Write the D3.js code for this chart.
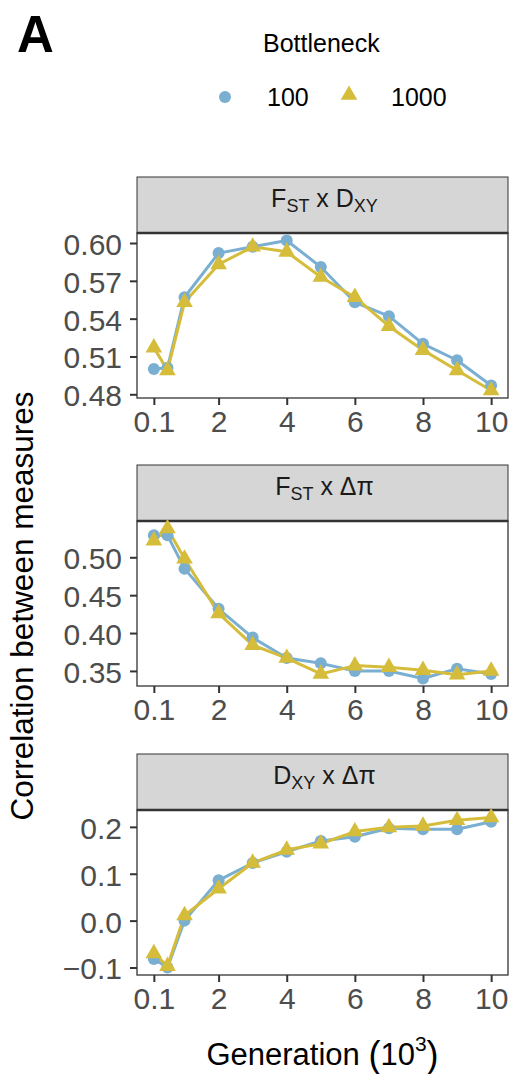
<!DOCTYPE html>
<html>
<head>
<meta charset="utf-8">
<script src="https://cdn.jsdelivr.net/npm/d3@7"></script>
<style>
  body { margin: 0; background: #fff; }
  svg { display: block; font-family: "Liberation Sans", Arial, sans-serif; }
</style>
</head>
<body>
<div id="chart"></div>
<script>
// generations (x 1000) sampled in every panel
const generations = [0.1, 0.5, 1, 2, 3, 4, 5, 6, 7, 8, 9, 10]
const xTicks = [0.1, 2, 4, 6, 8, 10]
const bottlenecks = ["100", "1000"]

// correlation values
const fstDxy100 = [0.500, 0.501, 0.557, 0.592, 0.597, 0.602, 0.581, 0.553, 0.542, 0.520, 0.507, 0.487]
const fstDxy1000 = [0.517, 0.499, 0.553, 0.583, 0.597, 0.593, 0.573, 0.557, 0.534, 0.515, 0.499, 0.483]
const fstDpi100 = [0.529, 0.529, 0.485, 0.432, 0.394, 0.367, 0.360, 0.350, 0.350, 0.340, 0.353, 0.346]
const fstDpi1000 = [0.522, 0.538, 0.498, 0.426, 0.384, 0.367, 0.346, 0.357, 0.355, 0.351, 0.345, 0.350]
const dxyDpi100 = [-0.082, -0.100, 0.000, 0.086, 0.123, 0.147, 0.170, 0.179, 0.197, 0.195, 0.195, 0.211]
const dxyDpi1000 = [-0.070, -0.097, 0.011, 0.068, 0.123, 0.151, 0.164, 0.190, 0.199, 0.202, 0.214, 0.220]

const yTicks1 = [0.48, 0.51, 0.54, 0.57, 0.60]
const yTicks2 = [0.35, 0.40, 0.45, 0.50]
const yTicks3 = [-0.1, 0.0, 0.1, 0.2]

const panels = [
  { title: [["F"], ["ST", "sub"], [" x D"], ["XY", "sub"]], series: [fstDxy100, fstDxy1000], ticks: yTicks1, fmt: d3.format(".2f"), top: 177 },
  { title: [["F"], ["ST", "sub"], [" x Δπ"]], series: [fstDpi100, fstDpi1000], ticks: yTicks2, fmt: d3.format(".2f"), top: 465 },
  { title: [["D"], ["XY", "sub"], [" x Δπ"]], series: [dxyDpi100, dxyDpi1000], ticks: yTicks3, fmt: d3.format(".1f"), top: 754 }
]

const colors = ["#7aafd1", "#d5bd3b"]
const width = 511, height = 1074
const left = 137, right = 508
const stripH = 56, panelH = 165

const svg = d3.select("#chart").append("svg")
    .attr("width", width)
    .attr("height", height)

svg.append("rect").attr("width", width).attr("height", height).attr("fill", "#fff")

// ggplot-style expanded x scale
const xExt = d3.extent(generations)
const xPad = (xExt[1] - xExt[0]) * 0.05
const x = d3.scaleLinear().domain([xExt[0] - xPad, xExt[1] + xPad]).range([left, right])

const tri = d3.symbol().type(d3.symbolTriangle).size(120)

panels.forEach(p => {
  const y0 = p.top + stripH
  const all = p.series.flat()
  const ext = d3.extent(all)
  const pad = (ext[1] - ext[0]) * 0.05
  const y = d3.scaleLinear().domain([ext[0] - pad, ext[1] + pad]).range([y0 + panelH, y0])

  const g = svg.append("g")

  // strip
  g.append("rect")
      .attr("x", left).attr("y", p.top)
      .attr("width", right - left).attr("height", stripH)
      .attr("fill", "#d6d6d6")
      .attr("stroke", "#333").attr("stroke-width", 1)

  const t = g.append("text")
      .attr("x", (left + right) / 2 + 2)
      .attr("y", p.top + stripH / 2 + 7)
      .attr("text-anchor", "middle")
      .attr("font-size", 25)
      .attr("fill", "#1a1a1a")
  p.title.forEach(([s, kind]) => {
    if (kind === "sub") {
      t.append("tspan").attr("font-size", 18).attr("dy", 5).text(s)
    } else {
      t.append("tspan").attr("dy", t.selectAll("tspan").size() ? -5 : 0).text(s)
    }
  })

  // panel
  g.append("rect")
      .attr("x", left).attr("y", y0)
      .attr("width", right - left).attr("height", panelH)
      .attr("fill", "#fff")
      .attr("stroke", "#333").attr("stroke-width", 1.3)
  g.append("line")
      .attr("x1", left).attr("x2", right)
      .attr("y1", y0).attr("y2", y0)
      .attr("stroke", "#333").attr("stroke-width", 2.5)

  // axes
  const yAxis = g.append("g")
      .attr("transform", `translate(${left},0)`)
      .call(d3.axisLeft(y).tickValues(p.ticks).tickFormat(p.fmt).tickSize(7).tickPadding(8))
  const xAxis = g.append("g")
      .attr("transform", `translate(0,${y0 + panelH})`)
      .call(d3.axisBottom(x).tickValues(xTicks).tickFormat(d => d === 0.1 ? "0.1" : d3.format("d")(d)).tickSize(7).tickPadding(5))
  ;[yAxis, xAxis].forEach(a => {
    a.select(".domain").remove()
    a.selectAll(".tick line").attr("stroke", "#333").attr("stroke-width", 2)
    a.selectAll(".tick text")
        .attr("fill", "#4d4d4d")
        .attr("font-size", 30)
        .attr("font-family", "Liberation Sans, Arial, sans-serif")
  })
  yAxis.selectAll(".tick text").attr("dy", "0.38em")
  xAxis.selectAll(".tick text").attr("dy", "0.74em")

  // lines then points
  const line = d3.line().x((d, i) => x(generations[i])).y(d => y(d))
  p.series.forEach((vals, k) => {
    g.append("path")
        .datum(vals)
        .attr("d", line)
        .attr("fill", "none")
        .attr("stroke", colors[k])
        .attr("stroke-width", 3)
        .attr("stroke-linejoin", "round")
  })
  g.append("g").selectAll("circle")
    .data(p.series[0])
    .join("circle")
      .attr("cx", (d, i) => x(generations[i]))
      .attr("cy", d => y(d))
      .attr("r", 6)
      .attr("fill", colors[0])
  g.append("g").selectAll("path")
    .data(p.series[1])
    .join("path")
      .attr("d", tri)
      .attr("transform", (d, i) => `translate(${x(generations[i])},${y(d)})`)
      .attr("fill", colors[1])
})

// axis titles
const xt = svg.append("text")
    .attr("x", (left + right) / 2)
    .attr("y", 1065)
    .attr("text-anchor", "middle")
    .attr("font-size", 31)
    .attr("fill", "#000")
xt.append("tspan").text("Generation ")
xt.append("tspan").attr("font-size", 36).attr("dy", 2).text("(")
xt.append("tspan").attr("dy", -2).text("10")
xt.append("tspan").attr("font-size", 21).attr("dy", -14).text("3")
xt.append("tspan").attr("font-size", 36).attr("dy", 16).text(")")

svg.append("text")
    .attr("transform", "translate(33,606) rotate(-90)")
    .attr("text-anchor", "middle")
    .attr("font-size", 31.5)
    .attr("fill", "#000")
    .text("Correlation between measures")

// panel tag
svg.append("text")
    .attr("x", 17).attr("y", 52)
    .attr("font-size", 51)
    .attr("font-weight", "bold")
    .text("A")

// legend
svg.append("text")
    .attr("x", 263).attr("y", 52)
    .attr("font-size", 25)
    .text("Bottleneck")

const legendX = [225, 349]
const leg = svg.append("g").selectAll("g")
  .data(bottlenecks)
  .join("g")
    .attr("transform", (d, i) => `translate(${legendX[i]},97)`)
leg.filter((d, i) => i === 0).append("circle").attr("r", 6).attr("fill", colors[0])
leg.filter((d, i) => i === 1).append("path").attr("d", tri).attr("fill", colors[1]).attr("transform", "translate(0,-2)")
leg.append("text")
    .attr("x", 42)
    .attr("y", 9)
    .attr("font-size", 25)
    .text(d => d)
</script>
</body>
</html>
